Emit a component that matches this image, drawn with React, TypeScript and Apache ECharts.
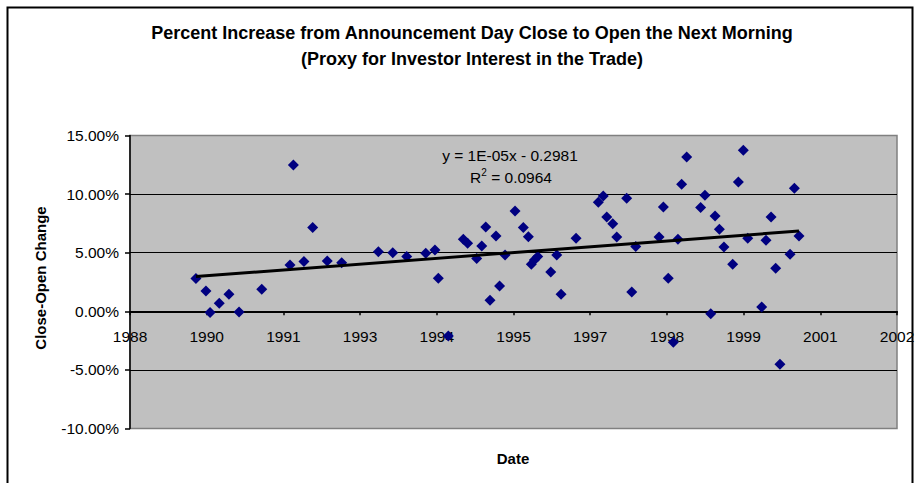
import React, { useEffect, useRef } from "react";
import * as echarts from "echarts";

// Announcement dates as Excel serial day numbers (days since 1899-12-30)
const announceDates: number[] = [
  32930, 32995, 33022, 33082, 33145, 33211, 33359, 33543, 33565, 33634,
  33691, 33786, 33880, 34119, 34213, 34304, 34428, 34488, 34510, 34575,
  34673, 34701, 34760, 34793, 34819, 34847, 34886, 34909, 34945, 35010,
  35064, 35097, 35116, 35136, 35158, 35243, 35282, 35310, 35408, 35553,
  35585, 35608, 35647, 35673, 35738, 35771, 35797, 35949, 35977, 36009,
  36042, 36072, 36096, 36129, 36220, 36248, 36286, 36314, 36342, 36372,
  36429, 36466, 36498, 36527, 36618, 36646, 36679, 36709, 36737, 36803,
  36831, 36861,
];

// Close-to-open change, in percent
const closeOpenChangePct: number[] = [
  2.79, 1.73, -0.11, 0.68, 1.45, -0.06, 1.88, 3.95, 12.48, 4.24,
  7.14, 4.29, 4.15, 5.09, 5.0, 4.67, 4.95, 5.23, 2.82, -2.1,
  6.14, 5.8, 4.5, 5.57, 7.19, 0.94, 6.43, 2.16, 4.8, 8.56,
  7.14, 6.37, 4.01, 4.38, 4.67, 3.36, 4.8, 1.45, 6.23, 9.3,
  9.84, 8.05, 7.48, 6.34, 9.64, 1.65, 5.52, 6.34, 8.9, 2.82,
  -2.64, 6.14, 10.84, 13.17, 8.85, 9.9, -0.2, 8.13, 7.0, 5.49,
  4.01, 11.03, 13.74, 6.23, 0.37, 6.06, 8.05, 3.67, -4.52, 4.86,
  10.49, 6.43,
];

// Linear trendline end points (date serial, percent) as drawn
const trendDates: number[] = [32930, 36861];
const trendPct: number[] = [2.96, 6.85];

const xTicks = { min: 32500, max: 37500, interval: 500 };
const yTicks = { min: -10, max: 15, interval: 5 };

const titleLines = [
  "Percent Increase from Announcement Day Close to Open the Next Morning",
  "(Proxy for Investor Interest in the Trade)",
];
const equationText = "y = 1E-05x - 0.2981";
const r2Value = "0.0964";

const FONT = "'Liberation Sans', Arial, sans-serif";

const GRID_TOP = 135.5;
const GRID_BOTTOM = 54.5;
const CHART_H = 483;

function serialToYear(v: number): number {
  const ms = Date.UTC(1899, 11, 30) + v * 86400000;
  return new Date(ms).getUTCFullYear();
}

export default function App() {
  const ref = useRef<HTMLDivElement>(null);
  useEffect(() => {
    if (!ref.current) return;
    const chart = echarts.init(ref.current, null, { renderer: "svg" });
    const points = announceDates.map((d, i) => [d, closeOpenChangePct[i]]);
    const trend = trendDates.map((d, i) => [d, trendPct[i]]);
    // place the date axis where the value axis is zero
    const plotH = CHART_H - GRID_TOP - GRID_BOTTOM;
    const zeroFromBottom = (plotH * (0 - yTicks.min)) / (yTicks.max - yTicks.min);
    chart.setOption({
      animation: false,
      backgroundColor: "#ffffff",
      textStyle: { fontFamily: FONT },
      grid: {
        left: 130,
        right: 21,
        top: GRID_TOP,
        bottom: GRID_BOTTOM,
        show: true,
        backgroundColor: "#C0C0C0",
        borderColor: "#808080",
        borderWidth: 1.5,
      },
      xAxis: {
        type: "value",
        position: "bottom",
        offset: -zeroFromBottom,
        min: xTicks.min,
        max: xTicks.max,
        interval: xTicks.interval,
        axisLine: { onZero: false, lineStyle: { color: "#000", width: 2 } },
        axisTick: { show: true, inside: false, length: 4, lineStyle: { color: "#000", width: 1.5 } },
        axisLabel: {
          color: "#000",
          fontSize: 15.5,
          fontFamily: FONT,
          margin: 17,
          showMinLabel: true,
          showMaxLabel: true,
          hideOverlap: false,
          formatter: (v: number) => String(serialToYear(v)),
        },
        splitLine: { show: false },
      },
      yAxis: {
        type: "value",
        min: yTicks.min,
        max: yTicks.max,
        interval: yTicks.interval,
        axisLine: { show: true, onZero: false, lineStyle: { color: "#000", width: 1.5 } },
        axisTick: { show: true, inside: false, length: 5, lineStyle: { color: "#000", width: 1.5 } },
        axisLabel: {
          color: "#000",
          fontSize: 15.5,
          fontFamily: FONT,
          margin: 11,
          formatter: (v: number) => v.toFixed(2) + "%",
        },
        splitLine: { show: true, showMinLine: false, showMaxLine: false, lineStyle: { color: "#000", width: 1 } },
      },
      graphic: [
        {
          type: "rect",
          shape: { x: 7.5, y: 7.5, width: 905, height: 490 },
          style: { fill: "none", stroke: "#000", lineWidth: 2 },
          silent: true,
        },
        {
          type: "text",
          x: 472,
          y: 33,
          style: {
            text: titleLines[0],
            fontFamily: FONT,
            fontSize: 18,
            fontWeight: "bold",
            fill: "#000",
            align: "center",
            verticalAlign: "middle",
          },
        },
        {
          type: "text",
          x: 472,
          y: 59,
          style: {
            text: titleLines[1],
            fontFamily: FONT,
            fontSize: 18,
            fontWeight: "bold",
            fill: "#000",
            align: "center",
            verticalAlign: "middle",
          },
        },
        {
          type: "text",
          x: 510,
          y: 155,
          z: 10,
          style: {
            text: equationText,
            fontFamily: FONT,
            fontSize: 15.5,
            fill: "#000",
            align: "center",
            verticalAlign: "middle",
          },
        },
        {
          type: "text",
          x: 511,
          y: 177,
          z: 10,
          style: {
            text: "R{sup|2} = " + r2Value,
            fontFamily: FONT,
            fontSize: 15.5,
            fill: "#000",
            align: "center",
            verticalAlign: "middle",
            rich: {
              sup: { fontSize: 10, verticalAlign: "top", padding: [0, 0, 9, 0], fontFamily: FONT, fill: "#000" },
            },
          },
        },
        {
          type: "text",
          x: 513,
          y: 458,
          style: {
            text: "Date",
            fontFamily: FONT,
            fontSize: 15,
            fontWeight: "bold",
            fill: "#000",
            align: "center",
            verticalAlign: "middle",
          },
        },
        {
          type: "text",
          x: 40,
          y: 278,
          rotation: Math.PI / 2,
          style: {
            text: "Close-Open Change",
            fontFamily: FONT,
            fontSize: 15,
            fontWeight: "bold",
            fill: "#000",
            align: "center",
            verticalAlign: "middle",
          },
        },
      ],
      series: [
        {
          type: "scatter",
          data: points,
          symbol: "diamond",
          symbolSize: 11,
          itemStyle: { color: "#000080", opacity: 1 },
          z: 3,
        },
        {
          type: "line",
          data: trend,
          showSymbol: false,
          symbol: "none",
          lineStyle: { color: "#000", width: 3 },
          z: 4,
        },
      ],
    });
    return () => chart.dispose();
  }, []);
  return <div ref={ref} style={{ position: "fixed", left: 0, top: 0, width: 918, height: 483 }} />;
}
